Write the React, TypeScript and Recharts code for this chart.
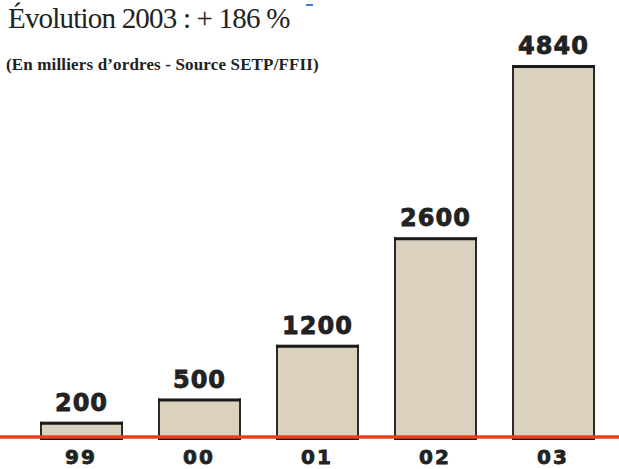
import { BarChart, Bar, XAxis, YAxis, ReferenceLine, LabelList } from 'recharts';

const years = ['99', '00', '01', '02', '03'];
const orders = [200, 500, 1200, 2600, 4840];

const title = 'Évolution 2003 : + 186 %';
const subtitle = '(En milliers d’ordres - Source SETP/FFII)';

const BEIGE = '#dad2bf';
const RED = '#e8401c';

// bar with a heavy top edge and thin dark sides
const BeigeBar = (props: any) => {
  const { x, y, width, height } = props;
  return (
    <g>
      <rect x={x} y={y} width={width} height={height} fill={BEIGE} />
      <line x1={x + 1} y1={y} x2={x + 1} y2={y + height} stroke="#2a2a2a" strokeWidth={2} />
      <line x1={x + width - 1} y1={y} x2={x + width - 1} y2={y + height} stroke="#2a2a2a" strokeWidth={2} />
      <line x1={x} y1={y + 1.5} x2={x + width} y2={y + 1.5} stroke="#1a1a1a" strokeWidth={3} />
      <line x1={x} y1={y + height + 2} x2={x + width} y2={y + height + 2} stroke="#1a1a1a" strokeWidth={2} />
    </g>
  );
};

const YearTick = (props: any) => {
  const { x, y, payload } = props;
  return (
    <text
      x={x}
      y={y + 19}
      textAnchor="middle"
      fontFamily="DejaVu Sans"
      fontWeight="bold"
      fontSize={20}
      letterSpacing={2}
      fill="#222"
      stroke="#222"
      strokeWidth={0.8}
    >
      {payload.value}
    </text>
  );
};

const App = () => {
  const data = years.map((year, i) => ({ year, value: orders[i] }));

  return (
    <div style={{ position: 'absolute', left: 0, top: 0, width: 619, height: 469, background: '#fff' }}>
      <div
        style={{
          position: 'absolute',
          left: 8,
          top: 2,
          fontFamily: '"Liberation Serif", serif',
          fontSize: 29,
          letterSpacing: -0.8,
          color: '#222',
          whiteSpace: 'nowrap',
        }}
      >
        {title}
      </div>
      <div style={{ position: 'absolute', left: 306, top: 4, width: 7, height: 2, background: '#3a7bd5' }} />
      <div
        style={{
          position: 'absolute',
          left: 6,
          top: 55,
          fontFamily: '"Liberation Serif", serif',
          fontWeight: 'bold',
          fontSize: 17,
          letterSpacing: 0.15,
          color: '#222',
          whiteSpace: 'nowrap',
        }}
      >
        {subtitle}
      </div>
      <BarChart
        width={619}
        height={469}
        data={data}
        margin={{ top: 65, right: 0, bottom: 2, left: 0 }}
        style={{ position: 'absolute', left: 0, top: 0 }}
      >
        <XAxis
          dataKey="year"
          axisLine={false}
          tickLine={false}
          height={30}
          padding={{ left: 22, right: 7 }}
          tick={<YearTick />}
          interval={0}
        />
        <YAxis hide domain={[0, 4840]} />
        <Bar dataKey="value" barSize={83} shape={<BeigeBar />} isAnimationActive={false}>
          <LabelList
            dataKey="value"
            position="top"
            offset={11}
            fontFamily="DejaVu Sans"
            fontWeight="bold"
            fontSize={24}
            letterSpacing={1}
            fill="#222"
            stroke="#222"
            strokeWidth={0.8}
          />
        </Bar>
        <ReferenceLine y={0} stroke={RED} strokeWidth={3.5} ifOverflow="extendDomain" />
      </BarChart>
    </div>
  );
};

export default App;
